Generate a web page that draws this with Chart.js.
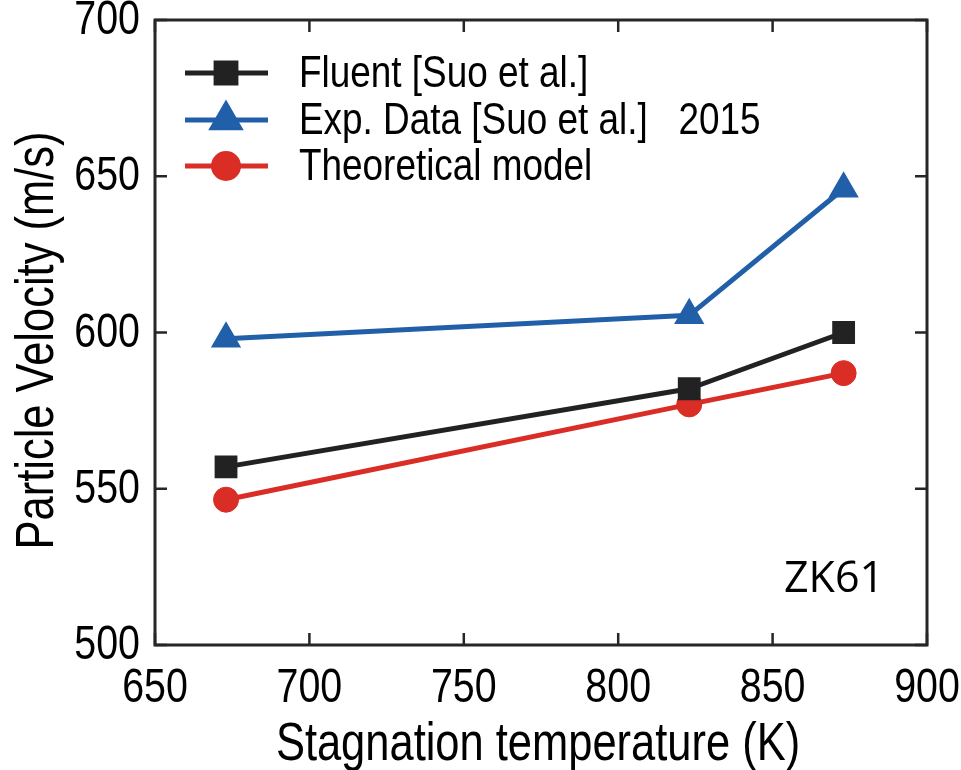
<!DOCTYPE html>
<html>
<head>
<meta charset="utf-8">
<script src="https://cdn.jsdelivr.net/npm/chart.js@4/dist/chart.umd.min.js"></script>
<style>
  html, body { margin: 0; padding: 0; background: #fff; }
  #wrap { width: 961px; height: 770px; }
</style>
</head>
<body>
<div id="wrap"><canvas id="chart" width="961" height="770"></canvas></div>
<script>
// temperatures (K)
const temps = [673, 823, 873];
const fluent = [557, 582, 600];
const expData = [598, 605.5, 646];
const theory = [546.5, 577, 587];

const xTicks = [650, 700, 750, 800, 850, 900];
const yTicks = [500, 550, 600, 650, 700];

const xTitle = 'Stagnation temperature (K)';
const yTitle = 'Particle Velocity (m/s)';

const FONT = "'Liberation Sans', Arial, sans-serif";
const AXIS = '#262626';
const NARROW = 0.82;   // reference text is set in a condensed face

function pts(ys) {
    return temps.map((t, i) => ({ x: t, y: ys[i] }));
}

// condensed text: draw with a horizontal squeeze
function narrowText(ctx, text, x, y, size, align, rotate) {
    ctx.save();
    ctx.translate(x, y);
    if (rotate) ctx.rotate(-Math.PI / 2);
    ctx.scale(NARROW, 1);
    ctx.font = size + 'px ' + FONT;
    ctx.fillStyle = '#000';
    ctx.textAlign = align;
    ctx.textBaseline = 'middle';
    ctx.fillText(text, 0, 0);
    ctx.restore();
}

// frame, inward ticks, labels, legend and the ZK61 note
const decorations = {
    id: 'decorations',
    afterDraw(chart) {
        const ctx = chart.ctx;
        const a = chart.chartArea;
        const xs = chart.scales.x, ys = chart.scales.y;
        const tl = 12;
        ctx.save();
        ctx.strokeStyle = AXIS;
        ctx.lineWidth = 3;
        ctx.strokeRect(a.left, a.top, a.right - a.left, a.bottom - a.top);
        ctx.lineWidth = 2.5;
        ctx.beginPath();
        xs.ticks.forEach(t => {
            const px = xs.getPixelForValue(t.value);
            ctx.moveTo(px, a.bottom); ctx.lineTo(px, a.bottom - tl);
            ctx.moveTo(px, a.top); ctx.lineTo(px, a.top + tl);
        });
        ys.ticks.forEach(t => {
            const py = ys.getPixelForValue(t.value);
            ctx.moveTo(a.left, py); ctx.lineTo(a.left + tl, py);
            ctx.moveTo(a.right, py); ctx.lineTo(a.right - tl, py);
        });
        ctx.stroke();
        ctx.restore();

        // tick labels and axis titles
        xs.ticks.forEach(t => {
            narrowText(ctx, String(t.value), xs.getPixelForValue(t.value), a.bottom + 44, 48, 'center');
        });
        ys.ticks.forEach(t => {
            narrowText(ctx, String(t.value), a.left - 15, ys.getPixelForValue(t.value) + 1, 48, 'right');
        });
        narrowText(ctx, xTitle, (a.left + a.right) / 2 - 3, 745, 53, 'center');
        narrowText(ctx, yTitle, 38, (a.top + a.bottom) / 2 + 8, 53, 'center', true);

        // legend
        ctx.save();
        const rows = [73, 120, 166];
        chart.data.datasets.forEach((ds, i) => {
            const y = rows[i];
            ctx.strokeStyle = ds.borderColor;
            ctx.lineWidth = ds.borderWidth;
            ctx.beginPath();
            ctx.moveTo(185, y); ctx.lineTo(268, y);
            ctx.stroke();
            Chart.helpers.drawPoint(ctx, {
                pointStyle: ds.pointStyle,
                radius: ds.pointRadius,
                rotation: 0,
                borderWidth: ds.pointBorderWidth
            }, 226, y);
            ctx.fillStyle = ds.backgroundColor;
            ctx.strokeStyle = ds.borderColor;
            ctx.lineWidth = ds.pointBorderWidth;
            ctx.fill();
            ctx.stroke();
            narrowText(ctx, ds.label, 299, y + 2, 45, 'left');
        });

        ctx.fillStyle = '#000';
        ctx.font = '43px "Open Sans", sans-serif';
        ctx.textAlign = 'left';
        ctx.textBaseline = 'middle';
        ctx.fillText('ZK61', 784, 580);
        ctx.restore();
    }
};

new Chart(document.getElementById('chart'), {
    type: 'scatter',
    data: {
        datasets: [
            {
                label: 'Fluent [Suo et al.]',
                data: pts(fluent),
                borderColor: '#222222',
                backgroundColor: '#222222',
                pointStyle: 'rect',
                pointRadius: 14,
                pointBorderWidth: 3
            },
            {
                label: 'Exp. Data [Suo et al.]   2015',
                data: pts(expData),
                borderColor: '#2160a9',
                backgroundColor: '#2160a9',
                pointStyle: 'triangle',
                pointRadius: 15.5,
                pointBorderWidth: 2
            },
            {
                label: 'Theoretical model',
                data: pts(theory),
                borderColor: '#d92d26',
                backgroundColor: '#d92d26',
                pointStyle: 'circle',
                pointRadius: 12.5,
                pointBorderWidth: 1
            }
        ].map(d => Object.assign(d, {
            showLine: true,
            borderWidth: 5,
            pointBorderColor: d.borderColor,
            pointBackgroundColor: d.backgroundColor,
            pointHoverRadius: d.pointRadius,
            borderJoinStyle: 'round'
        }))
    },
    options: {
        responsive: false,
        animation: false,
        events: [],
        layout: { padding: { top: 20, right: 34, left: 0, bottom: 0 } },
        plugins: { legend: { display: false }, tooltip: { enabled: false } },
        scales: {
            x: {
                type: 'linear',
                min: 650, max: 900,
                afterBuildTicks: s => { s.ticks = xTicks.map(v => ({ value: v })); },
                afterFit: s => { s.height = 125; s.paddingLeft = 0; s.paddingRight = 0; },
                grid: { display: false, drawTicks: false },
                border: { display: false },
                ticks: { display: false }
            },
            y: {
                min: 500, max: 700,
                afterBuildTicks: s => { s.ticks = yTicks.map(v => ({ value: v })); },
                afterFit: s => { s.width = 155; s.paddingTop = 0; s.paddingBottom = 0; },
                grid: { display: false, drawTicks: false },
                border: { display: false },
                ticks: { display: false }
            }
        }
    },
    plugins: [decorations]
});
</script>
</body>
</html>
